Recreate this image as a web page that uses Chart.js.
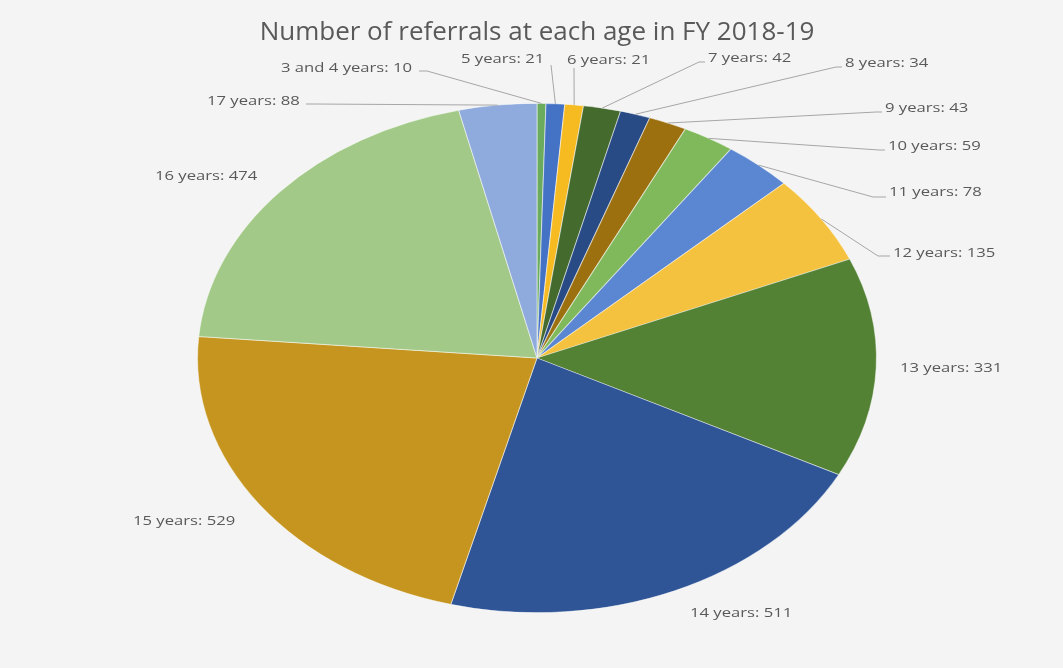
<!DOCTYPE html>
<html>
<head>
<meta charset="utf-8">
<title>Referrals by age</title>
<script src="https://cdn.jsdelivr.net/npm/chart.js@4.4.1/dist/chart.umd.min.js"></script>
<style>
    body { margin: 0; background: #f4f4f4; }
    #wrap { width: 1063px; height: 668px; position: relative; }
</style>
</head>
<body>
<div id="wrap"><canvas id="agePie"></canvas></div>
<script>
const chartTitle = 'Number of referrals at each age in FY 2018-19';
const ageGroups = ['3 and 4 years', '5 years', '6 years', '7 years', '8 years', '9 years', '10 years',
    '11 years', '12 years', '13 years', '14 years', '15 years', '16 years', '17 years'];
const referrals = [10, 21, 21, 42, 34, 43, 59, 78, 135, 331, 511, 529, 474, 88];
const sliceColours = ['#6aab5e', '#4472c4', '#f7bb22', '#446b2d', '#284a85', '#9c700f', '#80b95b',
    '#5b86d1', '#f5c240', '#548235', '#2f5597', '#c5951f', '#a2c987', '#8faadc'];

// where each data label sits (left edge, middle) and the leader line start / elbow
const labelSpots = [
    { x: 281, y: 68, lead: [[419, 71], [427, 71]] },
    { x: 461, y: 59, lead: [[551, 65]] },
    { x: 567, y: 60, lead: [[574, 68]] },
    { x: 708, y: 58, lead: [[705, 62], [699, 62]] },
    { x: 845, y: 63, lead: [[842, 67], [836, 67]] },
    { x: 885, y: 108, lead: [[882, 112], [876, 112]] },
    { x: 888, y: 146, lead: [[885, 150], [879, 150]] },
    { x: 889, y: 192, lead: [[886, 197], [873, 197]] },
    { x: 893, y: 253, lead: [[890, 256], [878, 256]] },
    { x: 900, y: 368 },
    { x: 690, y: 613 },
    { x: 133, y: 521 },
    { x: 155, y: 176 },
    { x: 207, y: 101, lead: [[306, 104], [314, 104]] }
];

const stretchX = 340 / 255;   // the pie is an ellipse in the picture
const textStretch = 1.28;

const ovalPie = {
    id: 'ovalPie',
    beforeDatasetsDraw(chart) {
        const arc = chart.getDatasetMeta(0).data[0];
        const ctx = chart.ctx;
        ctx.save();
        ctx.translate(arc.x, arc.y);
        ctx.scale(stretchX, 1);
        ctx.translate(-arc.x, -arc.y);
    },
    afterDatasetsDraw(chart) {
        chart.ctx.restore();
    }
};

const sliceLabels = {
    id: 'sliceLabels',
    afterDraw(chart) {
        const ctx = chart.ctx;
        const arcs = chart.getDatasetMeta(0).data;
        ctx.save();
        ctx.font = '13px "Open Sans"';
        ctx.textBaseline = 'middle';
        ctx.textAlign = 'left';
        ctx.strokeStyle = '#a6a6a6';
        ctx.lineWidth = 1;
        for (let i = 0; i < arcs.length; i++) {
            const spot = labelSpots[i];
            const a = arcs[i];
            if (spot.lead) {
                const mid = (a.startAngle + a.endAngle) / 2;
                const ex = a.x + stretchX * a.outerRadius * Math.cos(mid);
                const ey = a.y + a.outerRadius * Math.sin(mid);
                ctx.beginPath();
                ctx.moveTo(spot.lead[0][0], spot.lead[0][1]);
                for (let j = 1; j < spot.lead.length; j++) {
                    ctx.lineTo(spot.lead[j][0], spot.lead[j][1]);
                }
                ctx.lineTo(ex, ey);
                ctx.stroke();
            }
            ctx.save();
            ctx.translate(spot.x, spot.y);
            ctx.scale(textStretch, 1);
            ctx.fillStyle = '#595959';
            ctx.fillText(ageGroups[i] + ': ' + referrals[i], 0, 0);
            ctx.restore();
        }
        ctx.restore();
    }
};

const ctx = document.getElementById('agePie');
const data = {
    labels: ageGroups,
    datasets: [{
        data: referrals,
        backgroundColor: sliceColours,
        borderColor: 'rgba(255,255,255,0.5)',
        borderWidth: 0.8,
        clip: false
    }]
};
const config = {
    type: 'pie',
    data: data,
    options: {
        responsive: true,
        maintainAspectRatio: false,
        animation: false,
        layout: { padding: { left: 11, right: 0, top: 0, bottom: 55 } },
        plugins: {
            legend: { display: false },
            tooltip: { enabled: false },
            title: {
                display: true,
                text: chartTitle,
                color: '#595959',
                font: { family: '"Open Sans"', size: 26, weight: 'normal', lineHeight: 1.2 },
                padding: { top: 17, bottom: 54.8 }
            }
        }
    },
    plugins: [ovalPie, sliceLabels]
};
const agePie = new Chart(ctx, config);
</script>
</body>
</html>
